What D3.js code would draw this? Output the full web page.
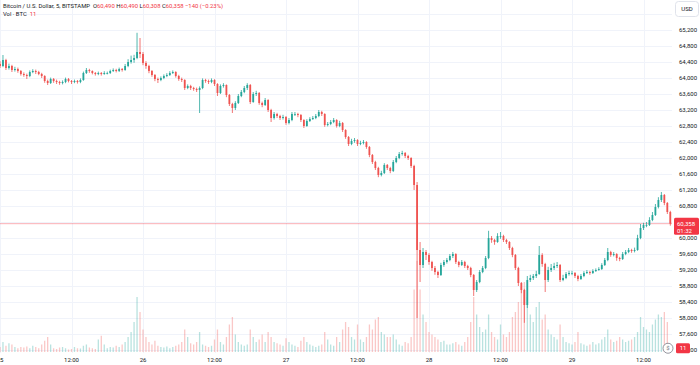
<!DOCTYPE html>
<html><head><meta charset="utf-8">
<script src="https://cdn.jsdelivr.net/npm/d3@7"></script>
<style>
body{margin:0;background:#fff;}
svg{display:block;font-family:Roboto,"Liberation Sans",sans-serif;}
</style>
</head><body>
<svg id="c" width="700" height="365"></svg>
<script>
// ---------- DATA ----------
const startTime = Date.UTC(2024, 7, 25, 0, 0);   // first bar (Aug 25 00:00)
const barMinutes = 30;
const firstOpen = 64350;

const closes = [
64300,64450,64250,64300,64200,64225,64175,64100,64075,64050,
64150,64175,64150,64100,64050,63925,63875,63975,63925,63900,
63875,63900,63975,63925,63900,63925,63900,63950,64125,64200,
64175,64125,64100,64125,64100,64125,64125,64175,64200,64175,
64225,64200,64300,64400,64450,64500,64650,64600,64375,64300,
64175,64075,63975,63950,64000,64050,64075,64125,64150,64050,
63975,63950,63750,63800,63750,63725,63700,63750,63950,63925,
63900,63950,63850,63625,63800,63825,63575,63350,63250,63375,
63550,63650,63750,63825,63400,63600,63625,63375,63325,63450,
63200,63000,63100,63050,63000,63025,62875,62950,63100,63100,
63075,62950,62800,62925,62975,63000,63050,63150,63100,62825,
62850,62900,62950,62800,62875,62700,62525,62350,62425,62450,
62350,62375,62400,62275,62075,61900,61750,61575,61625,61825,
61750,61675,61900,62000,62100,62125,62050,62000,61800,61325,
59700,59325,59650,59575,59400,59250,59150,59075,59325,59400,
59450,59550,59600,59400,59325,59400,59300,59250,59075,58700,
58900,59150,59250,59500,60000,59950,59900,60050,60050,59950,
59900,59750,59575,59250,58875,58700,58325,58950,59000,59050,
59100,59575,59350,58950,59200,59250,59300,59325,58950,59000,
59100,59125,59125,59050,58975,59050,59125,59150,59125,59175,
59200,59225,59325,59450,59650,59575,59600,59500,59475,59600,
59650,59700,59675,59700,60000,60250,60325,60325,60450,60575,
60775,60950,61075,60875,60650,60358];

const highs = [
64420,64575,64480,64360,64330,64280,64260,64200,64140,64110,
64190,64220,64210,64180,64130,64070,63960,64010,64000,63960,
63930,63940,64010,64000,63950,63960,63950,63990,64160,64250,
64230,64190,64150,64160,64150,64170,64160,64210,64240,64230,
64260,64250,64350,64470,64560,64580,65130,65000,64650,64420,
64330,64200,64100,64010,64040,64090,64120,64170,64190,64170,
64080,64010,63970,63840,63830,63780,63760,63790,63990,63980,
63960,63990,63970,63870,63840,63870,63840,63600,63380,63420,
63600,63700,63800,63870,63850,63650,63680,63650,63410,63500,
63470,63230,63150,63130,63080,63080,63050,63000,63150,63150,
63130,63100,62970,62970,63020,63050,63100,63200,63180,63120,
62900,62950,63000,62970,62930,62900,62720,62550,62480,62500,
62470,62430,62450,62420,62300,62100,61930,61780,61680,61870,
61850,61780,61950,62050,62150,62180,62150,62080,62020,61830,
61400,59900,59750,59700,59620,59430,59300,59180,59380,59450,
59500,59600,59650,59620,59430,59450,59430,59330,59280,59100,
58950,59200,59300,59550,60180,60050,59980,60120,60150,60080,
59980,59920,59780,59600,59280,58900,58730,59050,59080,59100,
59180,59800,59620,59380,59280,59350,59380,59400,59350,59080,
59150,59180,59180,59150,59080,59100,59170,59200,59180,59220,
59240,59270,59370,59500,59750,59680,59650,59620,59530,59650,
59700,59750,59730,59760,60080,60350,60380,60400,60520,60650,
60850,61020,61150,61100,60900,60680];

const lows = [
64250,64270,64200,64210,64150,64160,64130,64060,64030,63975,
64020,64120,64100,64070,64000,63880,63825,63850,63880,63850,
63830,63840,63870,63890,63850,63870,63860,63870,63930,64100,
64130,64090,64060,64070,64060,64080,64090,64100,64150,64140,
64150,64160,64180,64270,64360,64380,64470,64500,64320,64230,
64120,64030,63920,63875,63920,63970,64020,64050,64100,64010,
63930,63900,63700,63720,63700,63680,63650,63125,63720,63880,
63850,63870,63800,63550,63600,63760,63520,63300,63125,63200,
63350,63520,63620,63700,63350,63380,63550,63330,63270,63300,
63150,62900,62960,63000,62950,62960,62830,62840,62920,63050,
63020,62900,62750,62780,62900,62950,62970,63020,63050,62780,
62790,62820,62870,62760,62770,62650,62480,62300,62320,62380,
62300,62320,62340,62230,62020,61850,61700,61520,61540,61600,
61700,61620,61650,61870,61970,62060,62000,61950,61750,61200,
58000,58900,59250,59450,59330,59180,59080,59000,59050,59280,
59360,59420,59500,59350,59270,59300,59250,59200,59020,58550,
58650,58870,59120,59220,59470,59880,59830,59880,59980,59900,
59850,59700,59520,59200,58800,58620,57880,58250,58900,58950,
59000,59080,59280,58650,58900,59150,59200,59250,58900,58920,
58970,59060,59070,59000,58920,58950,59020,59100,59080,59100,
59150,59180,59200,59300,59420,59530,59540,59430,59420,59450,
59570,59620,59630,59640,59680,59970,60200,60270,60300,60420,
60550,60740,60900,60820,60600,60308];

const volumes = [
20,40,25,35,30,20,15,20,18,22,
15,25,20,15,30,45,60,30,15,12,
18,20,15,10,12,20,15,14,25,30,
18,15,12,50,65,30,15,20,18,25,
20,30,40,60,80,120,220,160,90,60,
40,30,45,25,20,18,22,15,20,25,
30,40,90,60,35,30,40,80,30,25,
20,25,50,90,40,30,60,110,140,70,
40,30,25,30,90,60,40,50,70,40,
80,60,40,35,30,25,55,40,30,25,
20,45,60,40,30,25,20,25,30,80,
50,30,25,60,40,90,120,100,60,50,
110,50,40,60,110,90,130,140,80,70,
60,60,70,50,30,25,40,35,60,250,
364,250,150,120,80,70,60,50,40,45,
30,30,35,40,30,25,40,60,120,220,
150,100,80,90,150,80,60,50,110,70,
60,80,140,160,200,260,280,220,150,120,
180,200,130,150,90,70,60,50,110,60,
40,35,30,40,80,35,30,25,30,40,
30,35,50,60,90,50,40,45,60,50,
40,45,50,60,80,140,100,90,80,110,
130,150,140,160,120,11];

const priceTicks = [57200,57600,58000,58400,58800,59200,59600,60000,60400,60800,61200,61600,62000,62400,62800,63200,63600,64000,64400,64800,65200,65600];
const timeTickLabels = ["25","12:00","26","12:00","27","12:00","28","12:00","29","12:00"];
const lastPrice = 60358;
const countdown = "01:32";
const lastVolume = 11;
const headerParts = [
  {t:"Bitcoin / U.S. Dollar, 5, BITSTAMP  ", c:"#131722"},
  {t:"O", c:"#131722"},{t:"60,490 ", c:"#f23645"},
  {t:"H", c:"#131722"},{t:"60,490 ", c:"#f23645"},
  {t:"L", c:"#131722"},{t:"60,308 ", c:"#f23645"},
  {t:"C", c:"#131722"},{t:"60,358 ", c:"#f23645"},
  {t:"\u2212140 (\u22120.23%)", c:"#f23645"}
];

// ---------- BUILD ----------
const UP = "#26a69a", DOWN = "#ef5350";
const candles = closes.map((c, i) => ({
  t: new Date(startTime + i * barMinutes * 60000),
  o: i ? closes[i - 1] : firstOpen, h: highs[i], l: lows[i], c, v: volumes[i]
}));
const timeTicks = timeTickLabels.map((_, i) => new Date(startTime + i * 12 * 3600000));

const W = 700, H = 365, plotR = 672, plotB = 353;
const x = d3.scaleUtc().domain([new Date(startTime), new Date(startTime + 4 * 86400000)]).range([0, 572]);
const y = d3.scaleLinear().domain([57200, 65200]).range([350, 30]);
const yv = d3.scaleLinear().domain([0, 400]).range([352, 252]);

const svg = d3.select("#c");
svg.append("rect").attr("width", W).attr("height", H).attr("fill", "#fff");
svg.append("clipPath").attr("id", "plot").append("rect").attr("x", 0).attr("y", 0).attr("width", plotR).attr("height", plotB);

const g = svg.append("g").attr("clip-path", "url(#plot)");
// grid
g.selectAll("line.hg").data(priceTicks).join("line").attr("class", "hg")
  .attr("x1", 0).attr("x2", plotR).attr("y1", d => Math.round(y(d)) + 0.5).attr("y2", d => Math.round(y(d)) + 0.5)
  .attr("stroke", "#f0f3fa").attr("stroke-width", 1);
g.selectAll("line.vg").data(timeTicks).join("line").attr("class", "vg")
  .attr("y1", 0).attr("y2", plotB).attr("x1", d => Math.round(x(d)) + 0.5).attr("x2", d => Math.round(x(d)) + 0.5)
  .attr("stroke", "#f0f3fa").attr("stroke-width", 1);

// volume
g.selectAll("rect.vol").data(candles).join("rect").attr("class", "vol")
  .attr("x", d => x(d.t) - 0.65).attr("width", 1.3)
  .attr("y", d => yv(d.v)).attr("height", d => yv(0) - yv(d.v))
  .attr("fill", d => d.c >= d.o ? "rgba(38,166,154,0.32)" : "rgba(239,83,80,0.32)");

// last price line
g.append("line").attr("x1", 0).attr("x2", plotR).attr("y1", y(lastPrice)).attr("y2", y(lastPrice))
  .attr("stroke", "rgba(242,54,69,0.4)").attr("stroke-width", 1);

// candles
g.selectAll("line.wick").data(candles).join("line").attr("class", "wick")
  .attr("x1", d => x(d.t)).attr("x2", d => x(d.t)).attr("y1", d => y(d.h)).attr("y2", d => y(d.l))
  .attr("stroke", d => d.c >= d.o ? UP : DOWN).attr("stroke-width", 0.8);
g.selectAll("rect.body").data(candles).join("rect").attr("class", "body")
  .attr("x", d => x(d.t) - 0.9).attr("width", 1.8)
  .attr("y", d => y(Math.max(d.o, d.c))).attr("height", d => Math.max(0.8, Math.abs(y(d.o) - y(d.c))))
  .attr("fill", d => d.c >= d.o ? UP : DOWN);

// price axis (labels hidden under the USD button and the last-price badge are not drawn)
const visibleTicks = priceTicks.filter(d => y(d) > 20 && Math.abs(y(d) - y(lastPrice)) > 9);
const pa = svg.append("g").attr("font-size", 6).attr("fill", "#131722");
pa.selectAll("text").data(visibleTicks).join("text")
  .attr("x", 679).attr("y", d => y(d)).attr("dy", "0.35em").text(d => d3.format(",")(d));

// time axis
const ta = svg.append("g").attr("font-size", 6).attr("fill", "#131722").attr("text-anchor", "middle");
ta.selectAll("text").data(timeTicks).join("text")
  .attr("x", d => x(d)).attr("y", 360).attr("dy", "0.35em").text((d, i) => timeTickLabels[i]);

// header
const ht = svg.append("text").attr("x", 3).attr("y", 8).attr("font-size", 5.9).attr("style", "white-space:pre");
ht.selectAll("tspan").data(headerParts).join("tspan").attr("fill", d => d.c).text(d => d.t);
const vt = svg.append("text").attr("x", 3).attr("y", 16).attr("font-size", 5.9).attr("style", "white-space:pre");
vt.append("tspan").attr("fill", "#131722").text("Vol \u00b7 BTC  ");
vt.append("tspan").attr("fill", "#f23645").text(String(lastVolume));

// USD button
svg.append("rect").attr("x", 675.5).attr("y", 1.5).attr("width", 23).attr("height", 15).attr("rx", 3)
  .attr("fill", "#fff").attr("stroke", "#e0e3eb");
svg.append("text").attr("x", 687).attr("y", 9).attr("dy", "0.35em").attr("text-anchor", "middle")
  .attr("font-size", 6).attr("fill", "#131722").text("USD");

// last price badge
svg.append("rect").attr("x", 674).attr("y", y(lastPrice) - 6).attr("width", 25).attr("height", 17).attr("rx", 1.5).attr("fill", "#f23645");
svg.append("text").attr("x", 677).attr("y", y(lastPrice)).attr("dy", "0.35em").attr("font-size", 6).attr("fill", "#fff").text(d3.format(",")(lastPrice));
svg.append("text").attr("x", 677).attr("y", y(lastPrice) + 7).attr("dy", "0.35em").attr("font-size", 6).attr("fill", "#fff").text(countdown);

// volume badge + icon
svg.append("rect").attr("x", 676).attr("y", yv(lastVolume) - 6).attr("width", 14).attr("height", 10).attr("rx", 1.5).attr("fill", "#f23645");
svg.append("text").attr("x", 683).attr("y", yv(lastVolume) - 1).attr("dy", "0.35em").attr("text-anchor", "middle").attr("font-size", 6).attr("fill", "#fff").text(String(lastVolume));
svg.append("circle").attr("cx", 668).attr("cy", yv(lastVolume) - 1).attr("r", 5).attr("fill", "#fff").attr("stroke", "#787b86").attr("stroke-width", 0.8);
svg.append("text").attr("x", 668).attr("y", yv(lastVolume) - 1).attr("dy", "0.35em").attr("text-anchor", "middle").attr("font-size", 6).attr("fill", "#787b86").text("$");
</script>
</body></html>
